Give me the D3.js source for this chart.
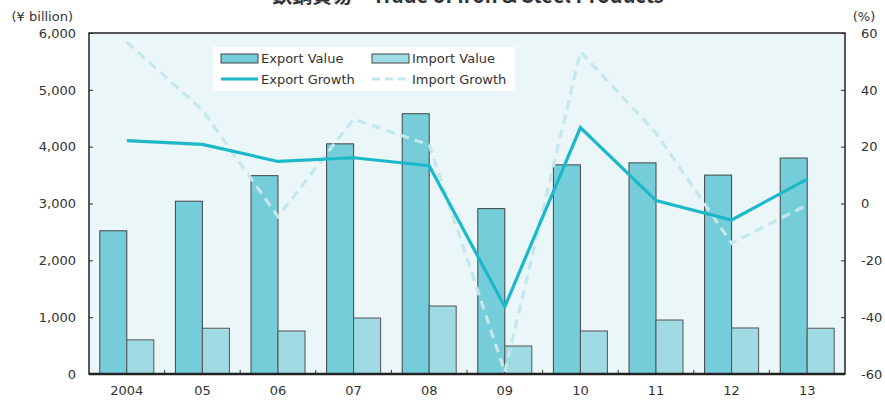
<!DOCTYPE html>
<html><head><meta charset="utf-8">
<script src="https://cdn.jsdelivr.net/npm/d3@7"></script>
<style>body{margin:0;background:#fff}svg{display:block}text{font-family:"DejaVu Sans",Verdana,sans-serif;fill:#333}</style>
</head><body>
<script>
const years = ["2004","05","06","07","08","09","10","11","12","13"];
const exportValue = [2520,3040,3490,4050,4580,2910,3680,3715,3500,3800];
const importValue = [600,805,757,985,1196,493,757,950,810,805];
const exportGrowth = [22.1,20.8,14.8,16.1,13.3,-36.3,26.7,1.0,-5.8,8.6];
const importGrowth = [56.8,32.9,-4.6,29.7,20.6,-59.3,53.4,24.8,-14.0,-0.5];
const leftTicks = [0,1000,2000,3000,4000,5000,6000];
const rightTicks = [-60,-40,-20,0,20,40,60];

const W=885,H=411;
const m={l:89,r:845,t:33,b:374};
const svg=d3.select("body").append("svg").attr("width",W).attr("height",H);

const x=d3.scaleBand().domain(years).range([m.l,m.r]).padding(0);
const yL=d3.scaleLinear().domain([0,6000]).range([m.b,m.t]);
const yR=d3.scaleLinear().domain([-60,60]).range([m.b,m.t]);
const barW=27;

svg.append("rect").attr("x",m.l).attr("y",m.t).attr("width",m.r-m.l).attr("height",m.b-m.t).attr("fill","#EAF6F8");

// bars
svg.append("g").selectAll("rect").data(years).join("rect")
  .attr("x",d=>x(d)+x.bandwidth()/2-barW).attr("y",(d,i)=>yL(exportValue[i]))
  .attr("width",barW).attr("height",(d,i)=>yL(0)-yL(exportValue[i]))
  .attr("fill","#74CDD8").attr("stroke","#444").attr("stroke-width",1);
svg.append("g").selectAll("rect").data(years).join("rect")
  .attr("x",d=>x(d)+x.bandwidth()/2).attr("y",(d,i)=>yL(importValue[i]))
  .attr("width",barW).attr("height",(d,i)=>yL(0)-yL(importValue[i]))
  .attr("fill","#A0DAE3").attr("stroke","#555").attr("stroke-width",1);

// lines
const cx=d=>x(d)+x.bandwidth()/2;
svg.append("path").datum(years).attr("fill","none").attr("stroke","#C3E7ED").attr("stroke-width",3.2)
  .attr("stroke-dasharray","9,6")
  .attr("d",d3.line().x(cx).y((d,i)=>yR(importGrowth[i])));
svg.append("path").datum(years).attr("fill","none").attr("stroke","#1BB8C9").attr("stroke-width",3.2)
  .attr("d",d3.line().x(cx).y((d,i)=>yR(exportGrowth[i])));

// axes
const gl=svg.append("g").attr("transform",`translate(${m.l},0)`)
  .call(d3.axisLeft(yL).tickValues(leftTicks).tickFormat(d3.format(",")).tickSizeInner(-4).tickSizeOuter(0).tickPadding(13));
const gr=svg.append("g").attr("transform",`translate(${m.r},0)`)
  .call(d3.axisRight(yR).tickValues(rightTicks).tickFormat(d=>d<0?"-"+Math.abs(d):d).tickSizeInner(-4).tickSizeOuter(0).tickPadding(16));
const gb=svg.append("g").attr("transform",`translate(0,${m.b})`)
  .call(d3.axisBottom(x).tickSize(0).tickPadding(12));
[gl,gr,gb].forEach(g=>{g.select(".domain").remove();g.selectAll("text").attr("font-size",13).attr("fill","#333").style("font-family","DejaVu Sans");g.selectAll("line").attr("stroke","#333");});
// boundary ticks on x
svg.append("g").selectAll("line").data(years.slice(1)).join("line")
  .attr("x1",d=>x(d)).attr("x2",d=>x(d)).attr("y1",m.b).attr("y2",m.b-4).attr("stroke","#333");

// frame
svg.append("rect").attr("x",m.l).attr("y",m.t).attr("width",m.r-m.l).attr("height",m.b-m.t).attr("fill","none").attr("stroke","#222").attr("stroke-width",1.5);
svg.append("line").attr("x1",m.l).attr("x2",m.r).attr("y1",m.b).attr("y2",m.b).attr("stroke","#222").attr("stroke-width",2.5);

// unit labels
svg.append("text").attr("x",73).attr("y",21).attr("text-anchor","end").attr("font-size",13).text("(¥ billion)");
svg.append("text").attr("x",864).attr("y",21).attr("text-anchor","middle").attr("font-size",13).text("(%)");

// title
svg.append("text").attr("x",468).attr("y",3).attr("text-anchor","middle").attr("font-size",20).attr("font-weight","bold")
  .style("font-family","'Noto Sans CJK JP','DejaVu Sans',sans-serif").text("鉄鋼貿易　Trade of Iron & Steel Products");

// legend
const lg=svg.append("g");
lg.append("rect").attr("x",213).attr("y",47).attr("width",302).attr("height",44).attr("fill","#fff");
const items=[
 {t:"Export Value",x:221,y:58,type:"bar",fill:"#74CDD8"},
 {t:"Import Value",x:372,y:58,type:"bar",fill:"#A0DAE3"},
 {t:"Export Growth",x:221,y:79,type:"line",stroke:"#1BB8C9",dash:null},
 {t:"Import Growth",x:372,y:79,type:"line",stroke:"#C3E7ED",dash:"8,5"}];
items.forEach(it=>{
  if(it.type==="bar") lg.append("rect").attr("x",it.x).attr("y",it.y-4).attr("width",37).attr("height",9).attr("fill",it.fill).attr("stroke","#444");
  else lg.append("line").attr("x1",it.x).attr("x2",it.x+37).attr("y1",it.y).attr("y2",it.y).attr("stroke",it.stroke).attr("stroke-width",3.2).attr("stroke-dasharray",it.dash);
  lg.append("text").attr("x",it.x+40).attr("y",it.y+5).attr("font-size",13).text(it.t);
});
</script>
</body></html>
